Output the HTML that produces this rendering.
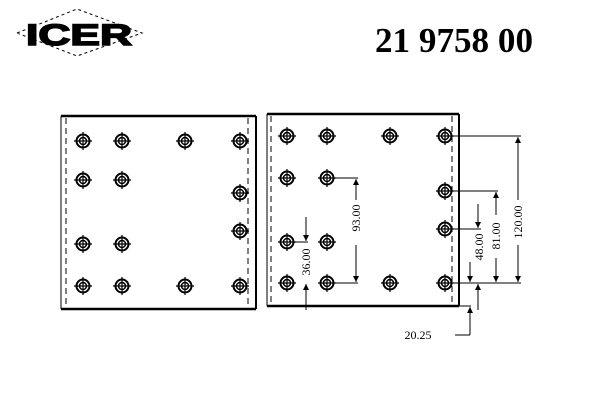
<!DOCTYPE html>
<html><head><meta charset="utf-8"><style>
html,body{margin:0;padding:0;background:#fff;}
svg{display:block;}
</style></head><body>
<svg width="600" height="400" viewBox="0 0 600 400" xmlns="http://www.w3.org/2000/svg">
<defs>
<g id="h">
<circle r="6.5" fill="none" stroke="#000" stroke-width="2"/>
<circle r="3.5" fill="none" stroke="#000" stroke-width="1.5"/>
<line x1="-9" y1="0" x2="9" y2="0" stroke="#000" stroke-width="1.2"/>
<line x1="0" y1="-9" x2="0" y2="9" stroke="#000" stroke-width="1.2"/>
</g>
<marker id="a" markerWidth="6" markerHeight="8" refX="6" refY="4" orient="auto" markerUnits="userSpaceOnUse"><path d="M0,1 L6,4 L0,7 z" fill="#000"/></marker>
</defs>
<!-- logo -->
<polygon points="17,33 77,9 142,33 77,56" fill="none" stroke="#000" stroke-width="1" stroke-dasharray="3,3"/>
<text x="26" y="45" font-family="Liberation Sans, sans-serif" font-weight="bold" font-size="30" textLength="106" lengthAdjust="spacingAndGlyphs" stroke="#000" stroke-width="1.5">ICER</text>
<text x="375" y="52" font-family="Liberation Serif, serif" font-weight="bold" font-size="35" textLength="158" lengthAdjust="spacingAndGlyphs">21 9758 00</text>

<!-- left panel -->
<g stroke="#000" fill="none">
<line x1="61" y1="116" x2="61" y2="309" stroke-width="1"/>
<line x1="61" y1="116" x2="256" y2="116" stroke-width="2.5"/>
<line x1="61" y1="309" x2="256" y2="309" stroke-width="2.5"/>
<line x1="256" y1="116" x2="256" y2="309" stroke-width="2"/>
<line x1="66" y1="118" x2="66" y2="307" stroke-dasharray="6,4"/>
<line x1="248" y1="118" x2="248" y2="307" stroke-dasharray="6,4"/>
</g>
<use href="#h" x="83" y="141"/><use href="#h" x="122" y="141"/><use href="#h" x="185" y="141"/><use href="#h" x="240" y="141"/>
<use href="#h" x="83" y="180"/><use href="#h" x="122" y="180"/>
<use href="#h" x="83" y="244"/><use href="#h" x="122" y="244"/>
<use href="#h" x="83" y="286"/><use href="#h" x="122" y="286"/><use href="#h" x="185" y="286"/><use href="#h" x="240" y="286"/>
<use href="#h" x="240" y="193"/><use href="#h" x="240" y="231"/>

<!-- right panel -->
<g stroke="#000" fill="none">
<line x1="267" y1="114" x2="267" y2="306" stroke-width="1"/>
<line x1="267" y1="114" x2="459" y2="114" stroke-width="2.5"/>
<line x1="267" y1="306" x2="459" y2="306" stroke-width="2.5"/>
<line x1="459" y1="114" x2="459" y2="306" stroke-width="2"/>
<line x1="271" y1="116" x2="271" y2="304" stroke-dasharray="6,4"/>
<line x1="452" y1="116" x2="452" y2="304" stroke-dasharray="6,4"/>
</g>
<use href="#h" x="287" y="136"/><use href="#h" x="327" y="136"/><use href="#h" x="390" y="136"/><use href="#h" x="445" y="136"/>
<use href="#h" x="287" y="178"/><use href="#h" x="327" y="178"/>
<use href="#h" x="287" y="242"/><use href="#h" x="327" y="242"/>
<use href="#h" x="287" y="283"/><use href="#h" x="327" y="283"/><use href="#h" x="390" y="283"/><use href="#h" x="445" y="283"/>
<use href="#h" x="445" y="191"/><use href="#h" x="445" y="229"/>

<!-- dimensions -->
<g stroke="#000" stroke-width="1" fill="none">
<line x1="452" y1="136" x2="521" y2="136"/>
<line x1="452" y1="191" x2="498" y2="191"/>
<line x1="452" y1="229" x2="481" y2="229"/>
<line x1="452" y1="283" x2="521" y2="283"/>
<line x1="459" y1="306" x2="471" y2="306"/>
<line x1="518" y1="200" x2="518" y2="137" marker-end="url(#a)"/>
<line x1="518" y1="245" x2="518" y2="282" marker-end="url(#a)"/>
<line x1="496" y1="215" x2="496" y2="192" marker-end="url(#a)"/>
<line x1="496" y1="258" x2="496" y2="282" marker-end="url(#a)"/>
<line x1="478" y1="204" x2="478" y2="228" marker-end="url(#a)"/>
<line x1="470" y1="262" x2="470" y2="282" marker-end="url(#a)"/>
<line x1="478" y1="310" x2="478" y2="284" marker-end="url(#a)"/>
<line x1="470" y1="335" x2="470" y2="307" marker-end="url(#a)"/>
<line x1="470" y1="335" x2="455" y2="335"/>
<line x1="327" y1="178" x2="358" y2="178"/>
<line x1="327" y1="283" x2="358" y2="283"/>
<line x1="356" y1="200" x2="356" y2="179" marker-end="url(#a)"/>
<line x1="356" y1="245" x2="356" y2="282" marker-end="url(#a)"/>
<line x1="287" y1="242" x2="308" y2="242"/>
<line x1="306" y1="217" x2="306" y2="241" marker-end="url(#a)"/>
<line x1="306" y1="310" x2="306" y2="284" marker-end="url(#a)"/>
</g>
<g font-family="Liberation Serif, serif" font-size="12" fill="#000">
<text transform="translate(522,222) rotate(-90)" text-anchor="middle">120.00</text>
<text transform="translate(500,236) rotate(-90)" text-anchor="middle">81.00</text>
<text transform="translate(483,247) rotate(-90)" text-anchor="middle">48.00</text>
<text transform="translate(360,218) rotate(-90)" text-anchor="middle">93.00</text>
<text transform="translate(310,262) rotate(-90)" text-anchor="middle">36.00</text>
<text x="418" y="339" text-anchor="middle">20.25</text>
</g>
</svg>
</body></html>
